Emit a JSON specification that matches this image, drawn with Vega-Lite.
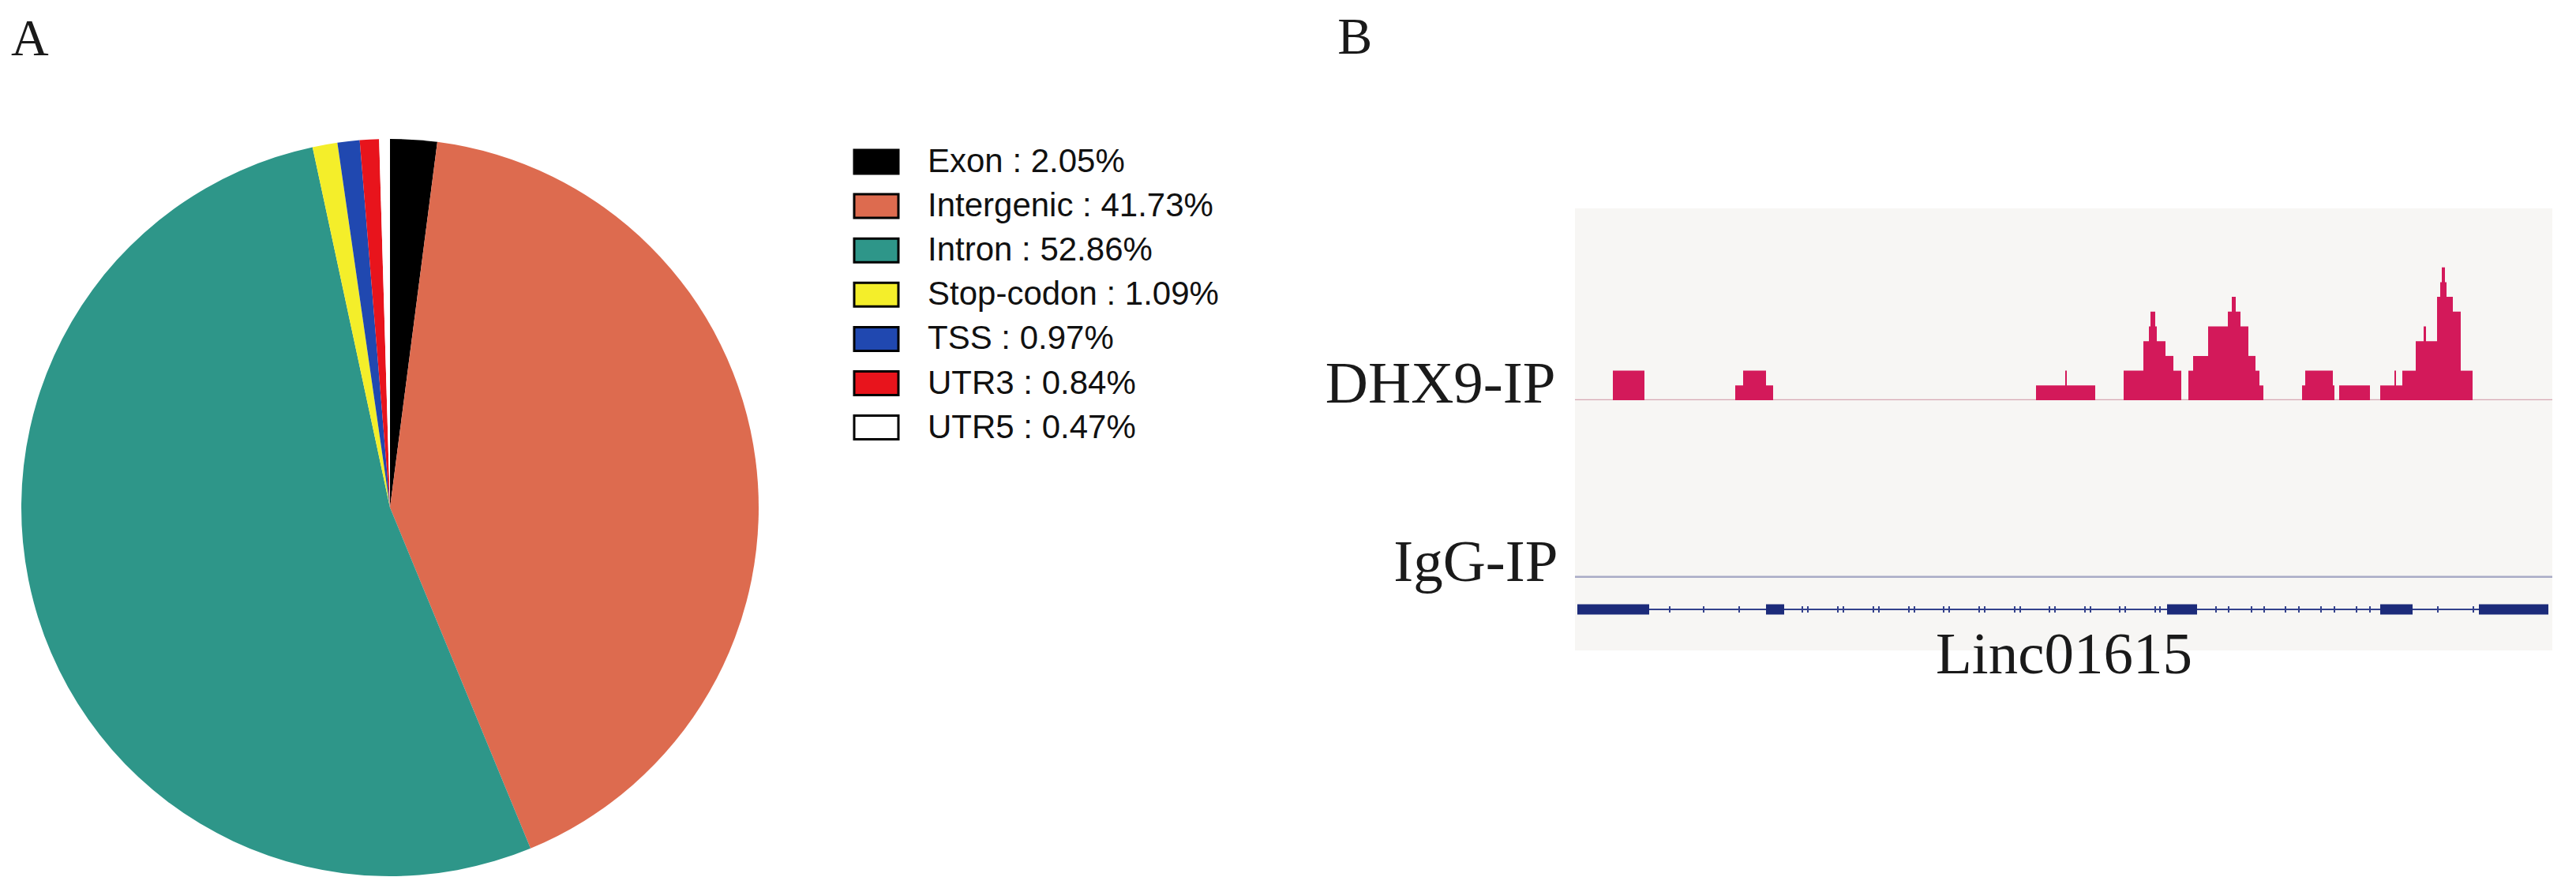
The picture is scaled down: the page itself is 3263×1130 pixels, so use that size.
{
  "$schema": "https://vega.github.io/schema/vega-lite/v6.json",
  "autosize": {"type": "pad"},
  "padding": {"left": 14, "top": 15, "right": 10, "bottom": 10},
  "background": "white",
  "config": {"view": {"stroke": null}, "font": "Liberation Serif"},
  "datasets": {
    "pie": [
      {"category": "Exon", "percent": 2.05, "label": "Exon : 2.05%"},
      {"category": "Intergenic", "percent": 41.73, "label": "Intergenic : 41.73%"},
      {"category": "Intron", "percent": 52.86, "label": "Intron : 52.86%"},
      {"category": "Stop-codon", "percent": 1.09, "label": "Stop-codon : 1.09%"},
      {"category": "TSS", "percent": 0.97, "label": "TSS : 0.97%"},
      {"category": "UTR3", "percent": 0.84, "label": "UTR3 : 0.84%"},
      {"category": "UTR5", "percent": 0.47, "label": "UTR5 : 0.47%"}
    ],
    "region": [{"start": 0, "end": 1238}],
    "dhx9": [
      {"start": 48, "end": 88, "cov": 2},
      {"start": 203, "end": 251, "cov": 1},
      {"start": 213, "end": 242, "cov": 2},
      {"start": 584, "end": 659, "cov": 1},
      {"start": 621, "end": 623, "cov": 2},
      {"start": 695, "end": 720, "cov": 2},
      {"start": 720, "end": 748, "cov": 4},
      {"start": 727, "end": 737, "cov": 5},
      {"start": 729, "end": 735, "cov": 6},
      {"start": 748, "end": 758, "cov": 3},
      {"start": 758, "end": 768, "cov": 2},
      {"start": 777, "end": 783, "cov": 2},
      {"start": 783, "end": 802, "cov": 3},
      {"start": 802, "end": 827, "cov": 5},
      {"start": 827, "end": 843, "cov": 6},
      {"start": 832, "end": 837, "cov": 7},
      {"start": 843, "end": 853, "cov": 5},
      {"start": 853, "end": 862, "cov": 3},
      {"start": 862, "end": 867, "cov": 2},
      {"start": 867, "end": 872, "cov": 1},
      {"start": 921, "end": 962, "cov": 1},
      {"start": 925, "end": 960, "cov": 2},
      {"start": 968, "end": 1007, "cov": 1},
      {"start": 1020, "end": 1048, "cov": 1},
      {"start": 1038, "end": 1040, "cov": 2},
      {"start": 1048, "end": 1065, "cov": 2},
      {"start": 1065, "end": 1092, "cov": 4},
      {"start": 1075, "end": 1078, "cov": 5},
      {"start": 1092, "end": 1112, "cov": 7},
      {"start": 1096, "end": 1104, "cov": 8},
      {"start": 1098, "end": 1102, "cov": 9},
      {"start": 1112, "end": 1122, "cov": 6},
      {"start": 1122, "end": 1137, "cov": 2}
    ],
    "gene": [{"start": 3, "end": 1233, "name": "Linc01615"}],
    "exons": [
      {"start": 3, "end": 94},
      {"start": 242, "end": 265},
      {"start": 750, "end": 788},
      {"start": 1020, "end": 1061},
      {"start": 1145, "end": 1233}
    ],
    "strand": [
      {"pos": 120}, {"pos": 163}, {"pos": 208},
      {"pos": 288}, {"pos": 295}, {"pos": 333}, {"pos": 340}, {"pos": 378}, {"pos": 385},
      {"pos": 423}, {"pos": 430}, {"pos": 467}, {"pos": 474}, {"pos": 512}, {"pos": 519},
      {"pos": 557}, {"pos": 564}, {"pos": 601}, {"pos": 608}, {"pos": 646}, {"pos": 653},
      {"pos": 690}, {"pos": 697}, {"pos": 735}, {"pos": 741},
      {"pos": 812}, {"pos": 828}, {"pos": 857}, {"pos": 873}, {"pos": 900}, {"pos": 917},
      {"pos": 945}, {"pos": 962}, {"pos": 990}, {"pos": 1007},
      {"pos": 1093}, {"pos": 1138}
    ]
  },
  "hconcat": [
    {
      "title": {"text": "A", "anchor": "start", "offset": 40, "dx": -13, "baseline": "alphabetic", "font": "Liberation Serif", "fontSize": 66, "fontWeight": "normal", "color": "#1a1a1a"},
      "width": 934,
      "height": 934,
      "data": {"name": "pie"},
      "mark": {"type": "arc"},
      "encoding": {
        "theta": {"field": "percent", "type": "quantitative", "stack": true},
        "color": {
          "field": "label",
          "type": "nominal",
          "scale": {
            "domain": ["Exon : 2.05%", "Intergenic : 41.73%", "Intron : 52.86%", "Stop-codon : 1.09%", "TSS : 0.97%", "UTR3 : 0.84%", "UTR5 : 0.47%"],
            "range": ["#000000", "#dd6b4f", "#2e9689", "#f4ee2a", "#2048b0", "#e8141c", "#ffffff"]
          },
          "legend": {
            "title": null,
            "orient": "none",
            "legendX": 1062,
            "legendY": 8,
            "padding": 0,
            "symbolType": "M-2,-1.07H2V1.07H-2Z",
            "symbolSize": 784,
            "symbolStrokeColor": "#000000",
            "symbolStrokeWidth": 3,
            "symbolOpacity": 1,
            "labelFont": "Liberation Sans",
            "labelFontSize": 42,
            "labelColor": "#111111",
            "labelLimit": 0,
            "labelOffset": 44,
            "labelBaseline": "middle",
            "rowPadding": 14.1
          }
        }
      }
    },
    {
      "title": {"text": "B", "anchor": "start", "offset": 42, "dx": 16, "baseline": "alphabetic", "font": "Liberation Serif", "fontSize": 66, "fontWeight": "normal", "color": "#1a1a1a"},
      "spacing": 0,
      "bounds": "flush",
      "vconcat": [
        {
          "width": 1238,
          "height": 331,
          "view": {"fill": "#ffffff", "stroke": null},
          "layer": [
            {
              "data": {"name": "region"},
              "mark": {"type": "rect", "color": "#f7f6f4"},
              "encoding": {
                "x": {"field": "start", "type": "quantitative", "scale": {"domain": [0, 1238], "nice": false, "zero": false}, "axis": null},
                "x2": {"field": "end"},
                "y": {
                  "datum": 0,
                  "type": "quantitative",
                  "scale": {"domain": [0, 17.7], "nice": false},
                  "axis": {"values": [0], "labelExpr": "'DHX9-IP'", "domain": false, "ticks": false, "grid": false, "title": null, "labelFont": "Liberation Serif", "labelFontSize": 75, "labelColor": "#1a1a1a", "labelBaseline": "alphabetic", "labelAlign": "right", "labelPadding": 25, "labelOffset": 2, "labelLimit": 0, "labelFlush": false, "labelOverlap": false}
                },
                "y2": {"datum": 13}
              }
            },
            {
              "data": {"name": "region"},
              "mark": {"type": "rule", "color": "#d6a8b3", "strokeWidth": 2.5},
              "encoding": {
                "x": {"field": "start", "type": "quantitative"},
                "x2": {"field": "end"},
                "y": {"datum": 0, "type": "quantitative"}
              }
            },
            {
              "data": {"name": "dhx9"},
              "mark": {"type": "rect", "color": "#d3195a"},
              "encoding": {
                "x": {"field": "start", "type": "quantitative"},
                "x2": {"field": "end"},
                "y": {"field": "cov", "type": "quantitative"},
                "y2": {"datum": 0}
              }
            }
          ]
        },
        {
          "width": 1238,
          "height": 225,
          "view": {"fill": "#f7f6f4", "stroke": null},
          "data": {"name": "region"},
          "mark": {"type": "rule", "color": "#a9abc6", "strokeWidth": 5},
          "encoding": {
            "x": {"field": "start", "type": "quantitative", "scale": {"domain": [0, 1238], "nice": false, "zero": false}, "axis": null},
            "x2": {"field": "end"},
            "y": {
              "datum": 0,
              "type": "quantitative",
              "scale": {"domain": [0, 12], "nice": false},
              "axis": {"values": [0], "labelExpr": "'IgG-IP'", "domain": false, "ticks": false, "grid": false, "title": null, "labelFont": "Liberation Serif", "labelFontSize": 75, "labelColor": "#1a1a1a", "labelBaseline": "alphabetic", "labelAlign": "right", "labelPadding": 22, "labelOffset": 3, "labelLimit": 0, "labelFlush": false, "labelOverlap": false}
            }
          }
        },
        {
          "width": 1238,
          "height": 92,
          "view": {"fill": "#f7f6f4", "stroke": null},
          "layer": [
            {
              "data": {"name": "gene"},
              "mark": {"type": "rule", "color": "#33418c", "strokeWidth": 2},
              "encoding": {
                "x": {
                  "field": "start",
                  "type": "quantitative",
                  "scale": {"domain": [0, 1238], "nice": false, "zero": false},
                  "axis": {"title": "Linc01615", "labels": false, "ticks": false, "domain": false, "grid": false, "titleFont": "Liberation Serif", "titleFontSize": 75, "titleFontWeight": "normal", "titleColor": "#1a1a1a", "titleBaseline": "alphabetic", "titlePadding": 28}
                },
                "x2": {"field": "end"},
                "y": {"datum": 0, "type": "quantitative", "scale": {"domain": [-1.3, 1], "nice": false, "zero": false}, "axis": null}
              }
            },
            {
              "data": {"name": "strand"},
              "mark": {"type": "rule", "color": "#33418c", "strokeWidth": 2},
              "encoding": {
                "x": {"field": "pos", "type": "quantitative"},
                "y": {"datum": -0.1, "type": "quantitative"},
                "y2": {"datum": 0.1}
              }
            },
            {
              "data": {"name": "exons"},
              "mark": {"type": "rect", "color": "#1c2b7a"},
              "encoding": {
                "x": {"field": "start", "type": "quantitative"},
                "x2": {"field": "end"},
                "y": {"datum": -0.1625, "type": "quantitative"},
                "y2": {"datum": 0.1625}
              }
            }
          ]
        }
      ]
    }
  ],
  "spacing": 1034,
  "bounds": "flush"
}
